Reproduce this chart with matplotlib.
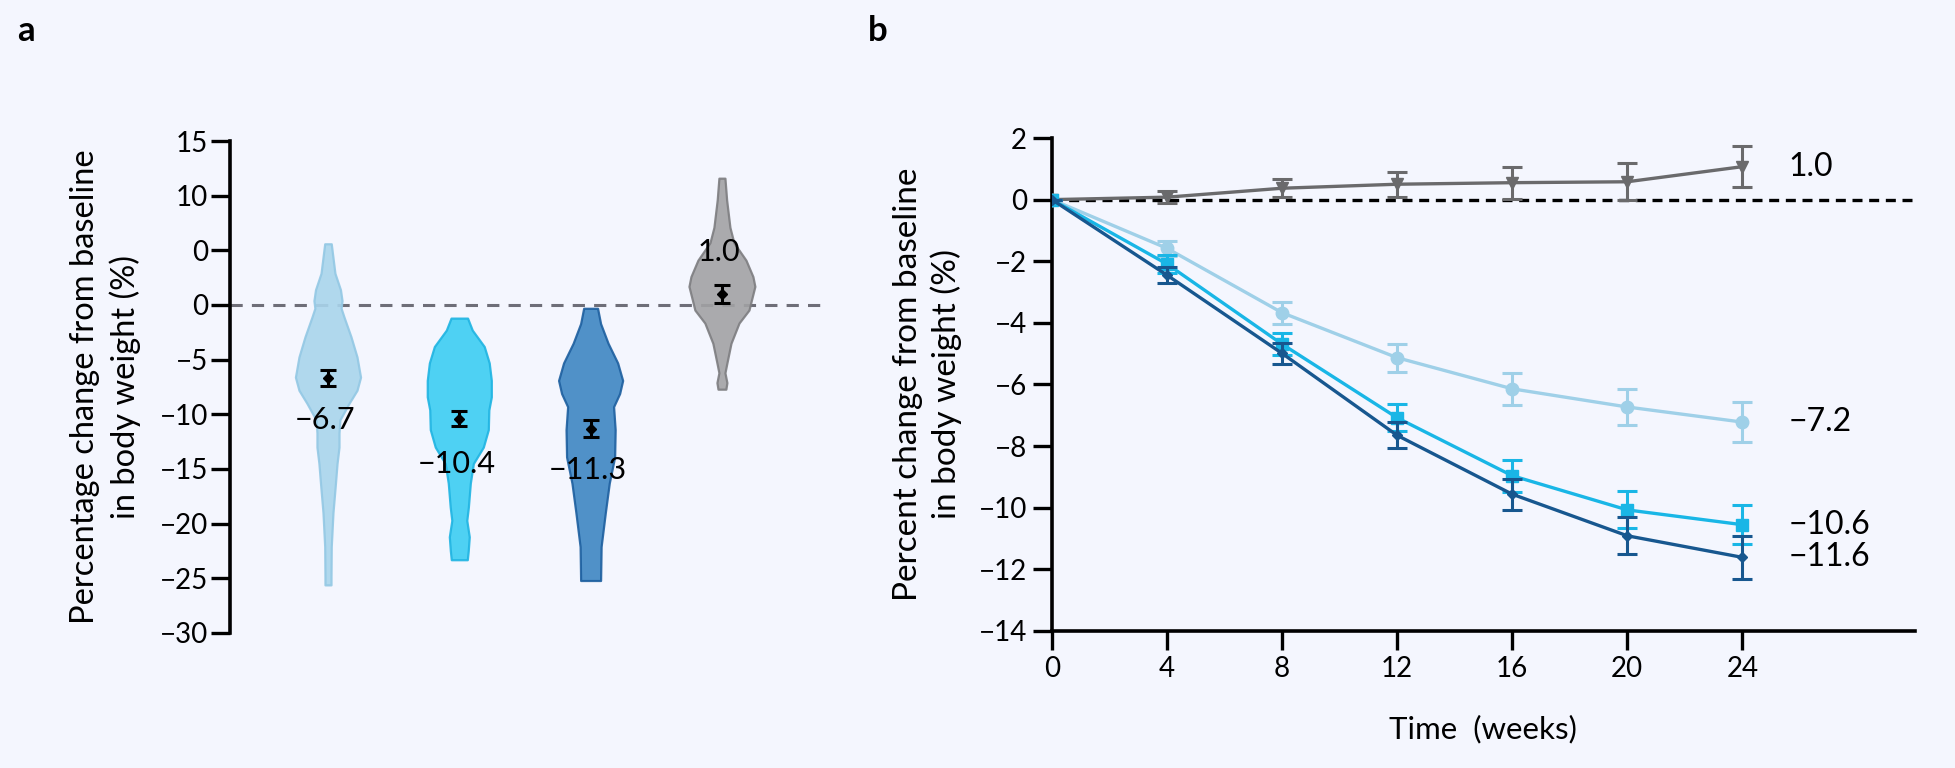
import numpy as np
import matplotlib
matplotlib.use("Agg")
import matplotlib.pyplot as plt

plt.rcParams['font.family'] = ['Lato', 'DejaVu Sans']
plt.rcParams['axes.unicode_minus'] = True

# ---- panel a: violin outlines (y value, half width in x units)
groups = ['low', 'mid', 'high', 'placebo']
violin_y = [
    [5.6, 2.9, 1.4, 0.4, -0.3, -1.1, -2.9, -4.75, -6.6, -7.8, -9.0, -10.5, -11.7, -13.0, -14.5, -16.3, -19.0, -22.1, -24.9, -25.6],
    [-1.2, -2.3, -3.8, -5.3, -6.9, -8.4, -9.6, -11.4, -13.0, -14.5, -16.3, -18.5, -19.7, -21.2, -22.5, -23.3],
    [-0.3, -1.7, -3.5, -5.3, -6.9, -8.1, -9.3, -11.4, -13.9, -16.3, -19.0, -22.1, -25.2],
    [11.6, 9.6, 7.1, 5.7, 4.1, 2.6, 1.7, 0.46, -0.46, -1.65, -3.5, -5.3, -6.2, -7.1, -7.7],
]
violin_hw = [
    [0.025, 0.053, 0.095, 0.107, 0.100, 0.122, 0.175, 0.221, 0.248, 0.221, 0.160, 0.091, 0.084, 0.084, 0.069, 0.057, 0.038, 0.025, 0.023, 0.023],
    [0.063, 0.099, 0.190, 0.228, 0.244, 0.244, 0.225, 0.221, 0.183, 0.107, 0.084, 0.069, 0.057, 0.076, 0.068, 0.061],
    [0.053, 0.076, 0.133, 0.206, 0.244, 0.221, 0.175, 0.187, 0.183, 0.142, 0.112, 0.080, 0.076],
    [0.023, 0.036, 0.061, 0.091, 0.183, 0.236, 0.251, 0.225, 0.206, 0.130, 0.069, 0.038, 0.023, 0.038, 0.030],
]
violin_mean = [-6.7, -10.4, -11.3, 1.0]
violin_sem = [0.75, 0.7, 0.75, 0.8]
violin_text = ['\u22126.7', '\u221210.4', '\u221211.3', '1.0']
violin_text_y = [-10.5, -14.5, -15.1, 4.85]

ticks_a = [-30, -25, -20, -15, -10, -5, 0, 5, 10, 15]
ticklabels_a = ['\u221230', '\u221225', '\u221220', '\u221215', '\u221210', '\u22125', '0', '0', '10', '15']

# ---- panel b: mean percent change over time
weeks = [0, 4, 8, 12, 16, 20, 24]
placebo = [0, 0.08, 0.37, 0.5, 0.55, 0.58, 1.07]
placebo_err = [0, 0.2, 0.3, 0.4, 0.52, 0.6, 0.67]
low = [0, -1.58, -3.67, -5.13, -6.14, -6.73, -7.22]
low_err = [0, 0.25, 0.36, 0.45, 0.52, 0.58, 0.66]
mid = [0, -2.09, -4.69, -7.08, -8.96, -10.07, -10.55]
mid_err = [0, 0.3, 0.35, 0.44, 0.52, 0.6, 0.64]
high = [0, -2.45, -4.99, -7.65, -9.56, -10.91, -11.61]
high_err = [0, 0.25, 0.35, 0.42, 0.5, 0.6, 0.69]
end_labels = ['1.0', '\u22127.2', '\u221210.6', '\u221211.6']

bg = '#f4f6fe'
fill_cols = ['#a9d5ec', '#3ccdf2', '#3e86c3', '#a2a2a4']
edge_cols = ['#93c8e4', '#1fb4e2', '#1d5f9f', '#7d7d80']
line_cols = ['#6a6a6c', '#9fd0e8', '#19b6e6', '#17578f']

fig = plt.figure(figsize=(19.56, 7.68), dpi=100, facecolor=bg)

# ================= panel a
ax1 = fig.add_axes([0.1176, 0.1758, 0.3021, 0.6406], facecolor=bg)
ax1.axhline(0, color='#6e6e78', lw=2.2, dashes=(4, 3), zorder=1)
for i in range(len(groups)):
    pos = i + 1
    y = np.array(violin_y[i])
    hw = np.array(violin_hw[i])
    ax1.fill_betweenx(y, pos - hw, pos + hw, facecolor=fill_cols[i], edgecolor=edge_cols[i],
                      lw=1.6, alpha=0.9, zorder=2)
    ax1.errorbar(pos, violin_mean[i], yerr=violin_sem[i], fmt='D', ms=5, color='black',
                 elinewidth=2.2, capsize=6, capthick=2.2, zorder=4)
    ax1.text(pos - 0.02, violin_text_y[i], violin_text[i], ha='center', va='center',
             fontsize=22, zorder=5)

ax1.set_xlim(0.254, 4.754)
ax1.set_ylim(-30, 15)
ax1.set_yticks(ticks_a)
ax1.set_yticklabels(ticklabels_a)
ax1.set_xticks([])
for s in ['top', 'right', 'bottom']:
    ax1.spines[s].set_visible(False)
ax1.spines['left'].set_linewidth(2.6)
ax1.tick_params(axis='y', direction='out', length=14, width=2.4, labelsize=20, pad=2)
ax1.set_ylabel('Percentage change from baseline\nin body weight (%)', fontsize=23.5, linespacing=1.4)
ax1.yaxis.set_label_coords(-0.150, 0.5)

# ================= panel b
ax2 = fig.add_axes([0.5378, 0.1784, 0.4412, 0.6419], facecolor=bg)
ax2.axhline(0, color='black', lw=2.4, dashes=(3, 2), zorder=1)
series = [placebo, low, mid, high]
errs = [placebo_err, low_err, mid_err, high_err]
markers = ['v', 'o', 's', 'D']
msizes = [8, 9, 8.5, 5.5]
for k in range(4):
    ax2.errorbar(weeks, series[k], yerr=errs[k], color=line_cols[k], marker=markers[k],
                 ms=msizes[k], lw=2.4, elinewidth=2.2, capsize=7, capthick=2.2, zorder=3 + k)
    ax2.text(25.6, series[k][-1], end_labels[k], ha='left', va='center', fontsize=23)

ax2.set_xlim(0, 30)
ax2.set_ylim(-14, 2)
ax2.set_xticks(weeks)
ax2.set_yticks(np.arange(-14, 3, 2))
for s in ['top', 'right']:
    ax2.spines[s].set_visible(False)
for s in ['left', 'bottom']:
    ax2.spines[s].set_linewidth(2.6)
ax2.tick_params(direction='out', length=14, width=2.4, labelsize=20, pad=4)
ax2.set_ylabel('Percent change from baseline\nin body weight (%)', fontsize=24, linespacing=1.3)
ax2.yaxis.set_label_coords(-0.104, 0.5)
ax2.set_xlabel('Time  (weeks)', fontsize=22.5)
ax2.xaxis.set_label_coords(0.5, -0.17)

fig.text(17 / 1956, 1 - 31 / 768, 'a', fontsize=25, fontweight='bold', va='center', ha='left')
fig.text(868 / 1956, 1 - 31 / 768, 'b', fontsize=25, fontweight='bold', va='center', ha='left')

fig.savefig('out.png', dpi=100, facecolor=bg)
